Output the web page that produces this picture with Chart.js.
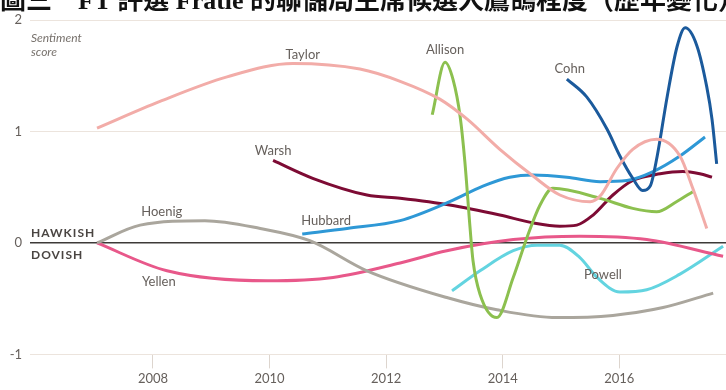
<!DOCTYPE html>
<html>
<head>
<meta charset="utf-8">
<script src="https://cdn.jsdelivr.net/npm/chart.js@4/dist/chart.umd.min.js"></script>
<style>
    html, body { margin: 0; padding: 0; background: #fff; overflow: hidden; }
    #wrap { position: relative; width: 726px; height: 390px; }
    #title {
        position: absolute; left: 0; top: -12px; white-space: nowrap;
        font: bold 26px "Liberation Serif", "Noto Sans CJK TC", serif;
        line-height: 26px; color: #111;
    }
    canvas { position: absolute; left: 0; top: 0; }
</style>
</head>
<body>
<div id="wrap">
    <canvas id="chart" width="726" height="390"></canvas>
    <div id="title">圖三　FT 評選 Fratle 的聯儲局主席候選人鷹鴿程度（歷年變化）</div>
</div>
<script>
// [year, sentiment score]
const taylor = [[2007.04, 1.03], [2008.12, 1.27], [2009.27, 1.49], [2010.40, 1.61], [2011.55, 1.56],
    [2012.24, 1.45], [2012.92, 1.29], [2013.39, 1.11], [2013.95, 0.84], [2014.52, 0.60],
    [2014.98, 0.43], [2015.50, 0.37], [2015.67, 0.42], [2015.96, 0.67], [2016.23, 0.84],
    [2016.64, 0.93], [2017.04, 0.78], [2017.26, 0.49], [2017.50, 0.13]];
const allison = [[2012.79, 1.15], [2013.01, 1.62], [2013.15, 1.46], [2013.27, 1.13], [2013.35, 0.73],
    [2013.44, 0.13], [2013.49, -0.16], [2013.61, -0.46], [2013.90, -0.67], [2014.18, -0.31],
    [2014.41, 0.04], [2014.64, 0.34], [2014.86, 0.49], [2015.67, 0.40], [2016.23, 0.31],
    [2016.64, 0.28], [2016.98, 0.37], [2017.26, 0.46]];
const cohn = [[2015.10, 1.47], [2015.44, 1.31], [2015.79, 1.02], [2016.01, 0.78], [2016.23, 0.58],
    [2016.40, 0.47], [2016.53, 0.51], [2016.65, 0.78], [2016.82, 1.31], [2016.99, 1.76],
    [2017.13, 1.93], [2017.33, 1.77], [2017.50, 1.40], [2017.59, 1.11], [2017.67, 0.71]];
const hubbard = [[2010.56, 0.08], [2011.33, 0.13], [2012.24, 0.20], [2013.09, 0.37], [2013.66, 0.51],
    [2014.12, 0.59], [2014.52, 0.61], [2015.10, 0.59], [2015.67, 0.55], [2016.13, 0.56],
    [2016.58, 0.64], [2017.04, 0.78], [2017.47, 0.95]];
const warsh = [[2010.06, 0.74], [2010.74, 0.58], [2011.67, 0.43], [2012.24, 0.40], [2013.09, 0.34],
    [2013.95, 0.25], [2014.52, 0.18], [2014.98, 0.15], [2015.27, 0.16], [2015.55, 0.25],
    [2015.89, 0.43], [2016.23, 0.56], [2016.70, 0.62], [2017.09, 0.64], [2017.38, 0.62],
    [2017.59, 0.59]];
const hoenig = [[2007.04, 0.00], [2007.78, 0.16], [2008.89, 0.20], [2009.84, 0.13], [2010.69, 0.02],
    [2011.67, -0.25], [2013.04, -0.49], [2013.90, -0.60], [2014.93, -0.67], [2015.89, -0.65],
    [2016.75, -0.58], [2017.61, -0.45]];
const yellen = [[2007.04, 0.00], [2008.24, -0.25], [2009.96, -0.34], [2011.09, -0.31], [2012.24, -0.18],
    [2013.04, -0.07], [2014.18, 0.03], [2015.32, 0.06], [2016.47, 0.03], [2017.78, -0.12]];
const powell = [[2013.13, -0.43], [2013.61, -0.25], [2014.18, -0.07], [2014.59, -0.02], [2014.98, -0.02],
    [2015.32, -0.13], [2015.62, -0.31], [2016.01, -0.44], [2016.47, -0.42], [2017.04, -0.28],
    [2017.78, -0.03]];

const yearTicks = [2008, 2010, 2012, 2014, 2016];
const scoreTicks = [-1, 0, 1, 2];

const seriesNames = ['Taylor', 'Allison', 'Cohn', 'Hubbard', 'Warsh', 'Hoenig', 'Yellen', 'Powell'];
const seriesData = [taylor, allison, cohn, hubbard, warsh, hoenig, yellen, powell];
const seriesColors = ['#f2aca8', '#8cc04f', '#1b5a9c', '#2e98d6', '#7d0b34', '#aaa69d', '#e8588a', '#63d4e0'];

// where each name sits, in year / score units
const nameSpots = [[2010.57, 1.69], [2013.01, 1.73], [2015.15, 1.56], [2010.97, 0.20],
    [2010.06, 0.83], [2008.15, 0.28], [2008.10, -0.35], [2015.72, -0.29]];

const textGrey = '#66605c';

const labelPlugin = {
    id: 'labels',
    afterDatasetsDraw(chart) {
        const { ctx, scales: { x, y }, chartArea } = chart;
        ctx.save();
        ctx.fillStyle = textGrey;
        ctx.font = '13px Lato, sans-serif';
        ctx.textAlign = 'center';
        ctx.textBaseline = 'middle';
        seriesNames.forEach((name, i) => {
            const [yr, sc] = nameSpots[i];
            ctx.fillText(name, x.getPixelForValue(yr), y.getPixelForValue(sc));
        });

        // hawkish / dovish tags around the zero line
        const zero = y.getPixelForValue(0);
        ctx.textAlign = 'left';
        ctx.fillStyle = '#4a4542';
        ctx.font = 'bold 12px Lato, sans-serif';
        ctx.letterSpacing = '1px';
        ctx.fillText('HAWKISH', chartArea.left + 1, zero - 10);
        ctx.fillText('DOVISH', chartArea.left + 1, zero + 12);
        ctx.letterSpacing = '0px';

        ctx.fillStyle = '#77716c';
        ctx.font = 'italic 12px Lato, sans-serif';
        ctx.fillText('Sentiment', chartArea.left + 1, chartArea.top + 18);
        ctx.fillText('score', chartArea.left + 1, chartArea.top + 32);
        ctx.restore();
    }
};

new Chart(document.getElementById('chart'), {
    type: 'line',
    data: {
        datasets: seriesNames.map((name, i) => ({
            label: name,
            data: seriesData[i].map(([yr, sc]) => ({ x: yr, y: sc })),
            borderColor: seriesColors[i],
            borderWidth: 3,
            pointRadius: 0,
            fill: false,
            cubicInterpolationMode: 'monotone'
        }))
    },
    options: {
        responsive: false,
        animation: false,
        layout: { padding: { top: 20, left: 0, right: 0, bottom: 0 } },
        plugins: { legend: { display: false }, tooltip: { enabled: false } },
        scales: {
            x: {
                type: 'linear',
                min: 2005.89,
                max: 2017.83,
                afterBuildTicks: axis => { axis.ticks = yearTicks.map(v => ({ value: v })); },
                border: { display: false },
                grid: { drawOnChartArea: false, tickLength: 14, color: '#ddd5ce' },
                ticks: {
                    color: textGrey,
                    font: { family: 'Lato', size: 13 },
                    padding: 3,
                    callback: v => String(v)
                }
            },
            y: {
                min: -1,
                max: 2,
                afterBuildTicks: axis => { axis.ticks = scoreTicks.map(v => ({ value: v })); },
                afterFit: axis => { axis.width = 30; },
                border: { display: false },
                grid: {
                    drawTicks: false,
                    color: ctx => ctx.tick && ctx.tick.value === 0 ? '#3d3a38' : '#ece4dd',
                    lineWidth: ctx => ctx.tick && ctx.tick.value === 0 ? 1.5 : 1
                },
                ticks: {
                    color: textGrey,
                    font: { family: 'Lato', size: 13 },
                    padding: 8
                }
            }
        }
    },
    plugins: [labelPlugin]
});
</script>
</body>
</html>
